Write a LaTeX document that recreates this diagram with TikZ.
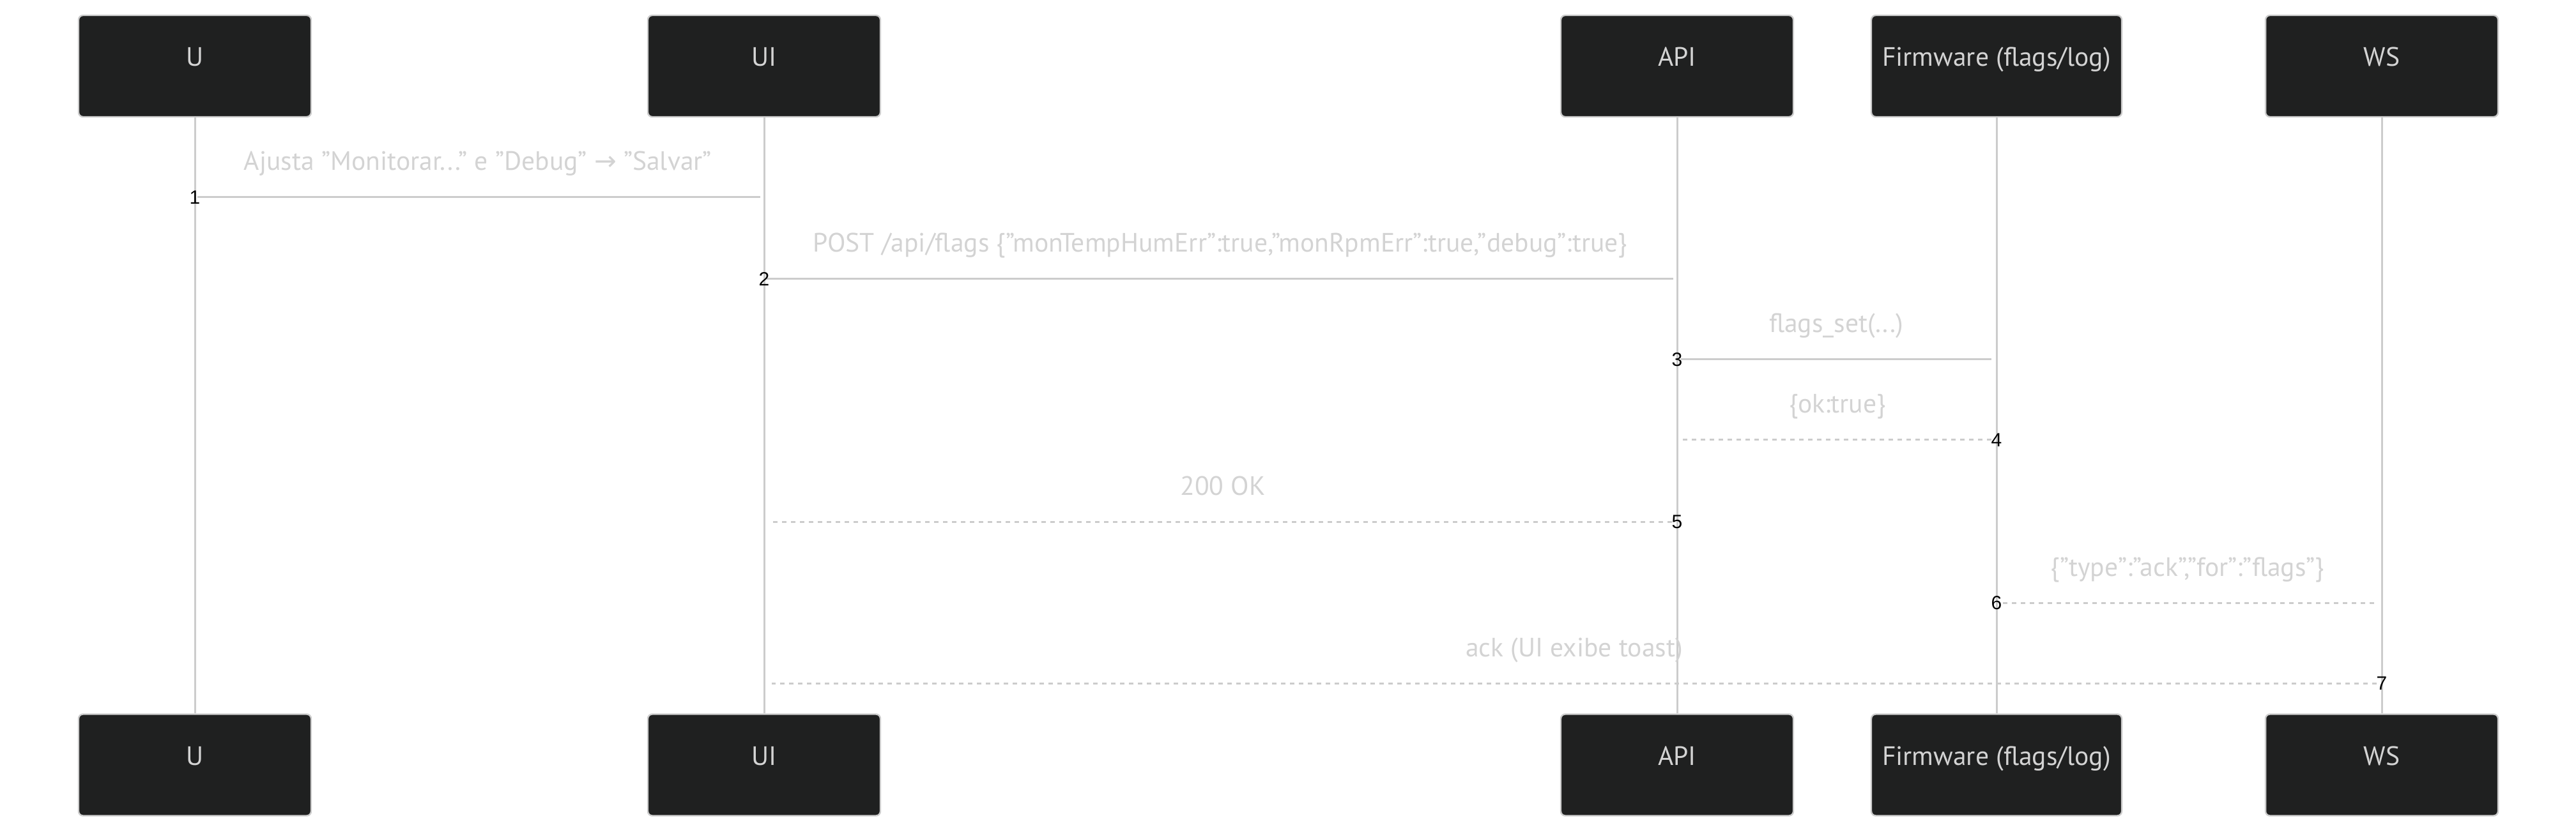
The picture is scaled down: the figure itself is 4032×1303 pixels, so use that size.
\documentclass[tikz,border=0pt]{standalone}
\usepackage{fontspec}
\setmainfont{PT Sans}
\newfontfamily\numfont{Liberation Sans}
\newfontfamily\symfont{DejaVu Sans}
\usetikzlibrary{calc}
\definecolor{actorbg}{HTML}{1F2020}
\definecolor{linecol}{HTML}{CCCCCC}
\definecolor{txtcol}{HTML}{D3D3D3}
\begin{document}
\begin{tikzpicture}[x=0.25pt,y=-0.25pt,
  actor/.style={draw=linecol, line width=0.6pt, fill=actorbg, rounded corners=1.75pt,
    inner xsep=0pt, inner ysep=0pt, text height=19.875pt, text depth=19.875pt,
    minimum width=91pt, text=txtcol, font=\fontsize{10.4}{12}\selectfont},
  lifeline/.style={draw=linecol, line width=0.75pt},
  solidmsg/.style={draw=linecol, line width=0.75pt},
  dashmsg/.style={draw=linecol, line width=0.75pt, dash pattern=on 1.75pt off 1.75pt},
  msgtext/.style={anchor=base, text=txtcol, inner sep=0pt, font=\fontsize{10.4}{12}\selectfont},
  seqnum/.style={text=black, inner sep=0pt, font=\numfont\fontsize{7.5}{8}\selectfont}]
\useasboundingbox (0,0) rectangle (4032,1303);
% top actors
\node[actor] (uT) at (305,103.5) {U};
\node[actor] (uiT) at (1196,103.5) {UI};
\node[actor] (apiT) at (2625,103.5) {API};
\node[actor, minimum width=98pt] (fwT) at (3125,103.5) {Firmware (flags/log)};
\node[actor] (wsT) at (3728,103.5) {WS};
% bottom actors
\node[actor] (uB) at (305,1198) {U};
\node[actor] (uiB) at (1196,1198) {UI};
\node[actor] (apiB) at (2625,1198) {API};
\node[actor, minimum width=98pt] (fwB) at (3125,1198) {Firmware (flags/log)};
\node[actor] (wsB) at (3728,1198) {WS};
% lifelines
\draw[lifeline] (uT.south) -- (uB.north);
\draw[lifeline] (uiT.south) -- (uiB.north);
\draw[lifeline] (apiT.south) -- (apiB.north);
\draw[lifeline] (fwT.south) -- (fwB.north);
\draw[lifeline] (wsT.south) -- (wsB.north);
% message end points
\coordinate (m1a) at ($(uT.center |- 0,309)+(4,0)$);
\coordinate (m1b) at ($(uiT.center |- 0,309)+(-6,0)$);
\coordinate (m2a) at ($(uiT.center |- 0,437)+(4,0)$);
\coordinate (m2b) at ($(apiT.center |- 0,437)+(-6,0)$);
\coordinate (m3a) at ($(apiT.center |- 0,563)+(6,0)$);
\coordinate (m3b) at ($(fwT.center |- 0,563)+(-8,0)$);
\coordinate (m4a) at ($(fwT.center |- 0,689)+(-8,0)$);
\coordinate (m4b) at ($(apiT.center |- 0,689)+(8,0)$);
\coordinate (m5a) at ($(apiT.center |- 0,817)+(-8,0)$);
\coordinate (m5b) at ($(uiT.center |- 0,817)+(10,0)$);
\coordinate (m6a) at ($(fwT.center |- 0,944)+(10,0)$);
\coordinate (m6b) at ($(wsT.center |- 0,944)+(-8,0)$);
\coordinate (m7a) at ($(wsT.center |- 0,1070)+(-8,0)$);
\coordinate (m7b) at ($(uiT.center |- 0,1070)+(12,0)$);
% messages
\draw[solidmsg] (m1a) -- (m1b);
\draw[solidmsg] (m2a) -- (m2b);
\draw[solidmsg] (m3a) -- (m3b);
\draw[dashmsg] (m4a) -- (m4b);
\draw[dashmsg] (m5a) -- (m5b);
\draw[dashmsg] (m6a) -- (m6b);
\draw[dashmsg] (m7a) -- (m7b);
% labels
\node[msgtext] (l1) at (748,267) {Ajusta "Monitorar..." e "Debug" {\symfont →} "Salvar"};
\node[msgtext] (l2) at (1910,395) {POST /api/flags \{"monTempHumErr":true,"monRpmErr":true,"debug":true\}};
\node[msgtext] (l3) at (2874,521) {flags\_set(...)};
\node[msgtext] (l4) at (2876,647) {\{ok:true\}};
\node[msgtext] (l5) at (1914,775) {200 OK};
\node[msgtext] (l6) at (3424,902) {\{"type":"ack","for":"flags"\}};
\node[msgtext] (l7) at (2464,1028) {ack (UI exibe toast)};
% sequence numbers
\node[seqnum] (n1) at (uT.center |- 0,309) {1};
\node[seqnum] (n2) at (uiT.center |- 0,437) {2};
\node[seqnum] (n3) at (apiT.center |- 0,563) {3};
\node[seqnum] (n4) at (fwT.center |- 0,689) {4};
\node[seqnum] (n5) at (apiT.center |- 0,817) {5};
\node[seqnum] (n6) at (fwT.center |- 0,944) {6};
\node[seqnum] (n7) at (wsT.center |- 0,1070) {7};
\end{tikzpicture}
\end{document}
